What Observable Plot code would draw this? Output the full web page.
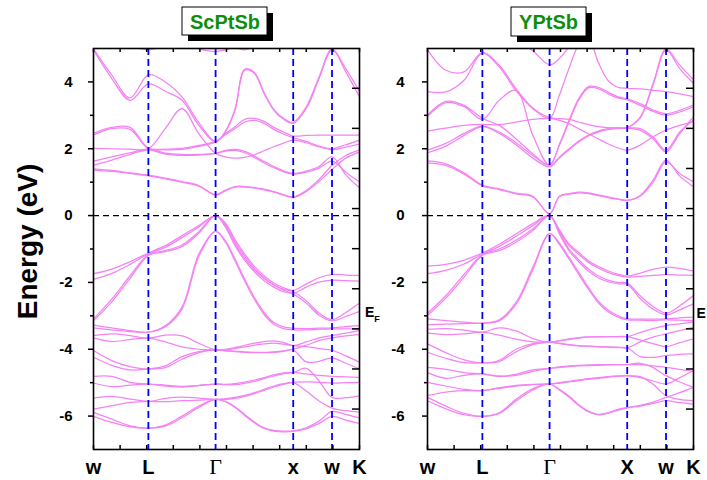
<!DOCTYPE html>
<html>
<head>
<meta charset="utf-8">
<script src="https://cdn.jsdelivr.net/npm/d3@7"></script>
<script src="https://cdn.jsdelivr.net/npm/@observablehq/plot@0.6"></script>
<style>
  body { margin: 0; background: #fff; }
  #fig { position: relative; width: 707px; height: 480px; overflow: hidden;
         font-family: "Liberation Sans", Arial, sans-serif; }
  #fig > svg { position: absolute; top: 0; }
</style>
</head>
<body>
<div id="fig"></div>
<script>
// k-path W–L–Γ–X–W–K (path length in units of 2π/a) and the sampled k grid
const kPath = [0, 0.236, 0.471, 0.707, 0.924, 1.140, 1.357, 1.573, 1.698, 1.823, 1.948,
               2.073, 2.198, 2.323, 2.448, 2.573, 2.740, 2.906, 3.073, 3.250, 3.427];
const symPoints = [0, 0.707, 1.573, 2.573, 3.073, 3.427];
const scLabels = ["w", "L", "Γ", "x", "w", "K"];
const ypLabels = ["w", "L", "Γ", "X", "w", "K"];
const majorE = [-6, -4, -2, 0, 2, 4];
const minorE = [-5, -3, -1, 1, 3];
const sideE = [3.81, 2.61, 1.41, 0.21, -0.99, -2.19, -3.39, -4.59, -5.79];

// ScPtSb bands (eV), one row per band on the kPath grid
const scValence = [
  [-1.74,-1.60,-1.38,-1.12,-0.90,-0.60,-0.30,0,-0.22,-0.72,-1.15,-1.52,-1.80,-2.02,-2.16,-2.24,-2.05,-1.86,-1.76,-1.78,-1.79],
  [-1.91,-1.73,-1.46,-1.15,-0.95,-0.66,-0.34,0,-0.26,-0.78,-1.22,-1.58,-1.86,-2.08,-2.23,-2.32,-2.14,-1.99,-1.93,-1.95,-1.96],
  [-3.09,-2.50,-1.80,-1.17,-1.05,-0.88,-0.48,0,-0.30,-0.85,-1.28,-1.62,-1.88,-2.07,-2.20,-2.28,-2.55,-2.92,-3.12,-2.90,-2.62],
  [-3.14,-2.58,-1.88,-1.19,-1.08,-0.93,-0.53,0,-0.34,-0.90,-1.34,-1.68,-1.95,-2.14,-2.28,-2.35,-2.62,-2.98,-3.15,-3.02,-2.87],
  [-3.28,-3.36,-3.44,-3.49,-3.30,-2.74,-1.15,-0.47,-0.75,-1.30,-1.90,-2.45,-2.90,-3.20,-3.33,-3.37,-3.38,-3.37,-3.36,-3.32,-3.29],
  [-3.36,-3.42,-3.47,-3.49,-3.33,-2.80,-1.22,-0.47,-0.79,-1.36,-1.96,-2.51,-2.96,-3.25,-3.38,-3.42,-3.42,-3.40,-3.39,-3.39,-3.39],
  [-3.59,-3.54,-3.59,-3.67,-3.58,-3.60,-3.82,-4.02,-4.00,-3.95,-3.88,-3.82,-3.77,-3.75,-3.80,-3.89,-3.78,-3.66,-3.59,-3.52,-3.44],
  [-3.66,-3.77,-3.71,-3.67,-3.78,-3.93,-4.00,-4.02,-4.04,-4.06,-4.08,-4.09,-4.09,-4.08,-4.05,-4.00,-3.88,-3.74,-3.66,-3.60,-3.56],
  [-4.04,-4.34,-4.52,-4.59,-4.50,-4.22,-4.07,-4.02,-4.02,-3.98,-3.93,-3.88,-3.84,-3.82,-3.85,-3.89,-3.92,-3.98,-4.03,-4.20,-4.39],
  [-4.24,-4.48,-4.62,-4.59,-4.55,-4.30,-4.10,-4.02,-4.05,-4.07,-4.09,-4.10,-4.10,-4.09,-4.06,-4.02,-4.38,-4.36,-4.26,-4.42,-4.59],
  [-4.81,-4.81,-4.99,-5.04,-5.10,-5.13,-5.09,-5.04,-5.05,-5.03,-4.98,-4.92,-4.85,-4.77,-4.71,-4.69,-4.74,-4.78,-4.81,-4.83,-4.84],
  [-5.01,-5.12,-5.07,-5.04,-5.07,-5.11,-5.08,-5.04,-5.06,-5.06,-5.02,-4.96,-4.88,-4.80,-4.73,-4.70,-4.57,-4.95,-5.44,-5.45,-5.39],
  [-5.46,-5.41,-5.49,-5.56,-5.47,-5.43,-5.46,-5.50,-5.48,-5.44,-5.38,-5.30,-5.20,-5.10,-5.03,-4.99,-4.98,-4.99,-5.01,-5.00,-4.99],
  [-5.79,-5.69,-5.59,-5.56,-5.57,-5.54,-5.52,-5.50,-5.50,-5.47,-5.41,-5.33,-5.23,-5.13,-5.05,-5.00,-5.25,-5.55,-5.76,-5.84,-5.88],
  [-5.89,-6.09,-6.29,-6.36,-6.27,-6.00,-5.70,-5.50,-5.56,-5.72,-5.95,-6.18,-6.35,-6.43,-6.45,-6.44,-6.35,-6.15,-5.86,-5.95,-6.06],
  [-6.01,-6.19,-6.32,-6.36,-6.30,-6.05,-5.74,-5.50,-5.57,-5.74,-5.98,-6.20,-6.37,-6.45,-6.47,-6.46,-6.38,-6.22,-6.01,-6.12,-6.22]
];
const scConduction = [
  [1.36,1.32,1.26,1.19,1.10,1.00,0.88,0.61,0.74,0.85,0.85,0.82,0.77,0.70,0.61,0.54,0.72,1.02,1.38,1.72,1.90],
  [1.40,1.35,1.28,1.21,1.12,1.02,0.90,0.63,0.76,0.87,0.87,0.84,0.79,0.72,0.63,0.56,0.75,1.08,1.50,1.80,1.96],
  [1.51,1.66,1.83,1.97,1.84,1.80,1.81,1.86,1.93,1.95,1.88,1.74,1.58,1.43,1.31,1.24,1.30,1.42,1.63,1.30,1.01],
  [1.63,1.76,1.88,1.99,1.87,1.83,1.83,1.86,1.95,1.98,1.92,1.78,1.62,1.47,1.34,1.26,1.33,1.47,1.76,1.22,0.83],
  [2.01,2.00,1.99,2.00,2.60,3.20,2.45,1.86,1.76,1.72,1.74,1.82,1.94,2.06,2.17,2.26,2.18,2.06,1.97,2.05,2.14],
  [2.41,2.60,2.58,2.00,1.97,1.98,2.07,2.20,2.45,2.66,2.88,2.91,2.82,2.64,2.50,2.38,2.40,2.41,2.41,2.41,2.41],
  [2.46,2.64,2.64,2.02,1.99,2.01,2.10,2.22,2.42,2.60,2.80,2.85,2.76,2.58,2.44,2.33,2.22,2.08,2.00,2.12,2.26],
  [4.96,4.10,3.45,3.94,3.72,3.45,2.70,2.20,2.50,3.15,4.35,4.25,3.65,3.15,2.88,2.76,3.20,4.10,4.96,4.40,3.71],
  [4.99,4.20,3.52,4.21,4.00,3.55,2.78,2.22,2.52,3.18,4.38,4.28,3.68,3.18,2.91,2.79,3.25,4.15,4.99,4.30,3.56],
  [null,null,5.10,4.96,5.10,null,4.98,4.91,4.96,5.02,4.96,5.05,null,null,null,null,null,null,null,null,null]
];

// YPtSb bands (eV)
const ypValence = [
  [-1.51,-1.46,-1.33,-1.12,-0.86,-0.55,-0.24,0,-0.42,-0.85,-1.10,-1.35,-1.52,-1.65,-1.75,-1.81,-1.72,-1.61,-1.54,-1.58,-1.66],
  [-1.74,-1.64,-1.45,-1.15,-0.92,-0.62,-0.30,0,-0.46,-0.90,-1.16,-1.40,-1.57,-1.70,-1.79,-1.84,-1.82,-1.79,-1.77,-1.78,-1.79],
  [-2.92,-2.40,-1.76,-1.17,-1.00,-0.74,-0.40,0,-0.50,-1.00,-1.32,-1.60,-1.80,-1.93,-2.00,-2.02,-2.40,-2.72,-2.92,-2.70,-2.39],
  [-2.99,-2.47,-1.84,-1.19,-1.05,-0.80,-0.45,0,-0.54,-1.05,-1.38,-1.66,-1.86,-1.98,-2.04,-2.06,-2.48,-2.80,-2.97,-2.82,-2.64],
  [-3.09,-3.14,-3.19,-3.22,-3.12,-2.60,-1.55,-0.54,-0.82,-1.25,-1.70,-2.15,-2.55,-2.82,-2.99,-3.09,-3.10,-3.10,-3.09,-3.06,-3.04],
  [-3.27,-3.25,-3.23,-3.22,-3.15,-2.66,-1.62,-0.54,-0.86,-1.30,-1.76,-2.20,-2.60,-2.87,-3.03,-3.12,-3.13,-3.14,-3.12,-3.13,-3.14],
  [-3.40,-3.38,-3.43,-3.49,-3.36,-3.45,-3.68,-3.79,-3.74,-3.69,-3.65,-3.63,-3.62,-3.62,-3.62,-3.62,-3.50,-3.38,-3.29,-3.24,-3.19],
  [-3.52,-3.56,-3.54,-3.49,-3.58,-3.70,-3.78,-3.79,-3.83,-3.87,-3.90,-3.91,-3.92,-3.93,-3.94,-3.96,-3.78,-3.64,-3.54,-3.44,-3.34],
  [-3.84,-4.10,-4.32,-4.41,-4.33,-4.00,-3.83,-3.79,-3.75,-3.71,-3.67,-3.64,-3.63,-3.62,-3.62,-3.62,-3.72,-3.83,-3.92,-3.80,-3.69],
  [-4.09,-4.27,-4.40,-4.41,-4.37,-4.08,-3.86,-3.79,-3.82,-3.86,-3.89,-3.91,-3.93,-3.94,-3.95,-3.96,-4.22,-4.24,-4.19,-4.15,-4.14],
  [-4.54,-4.60,-4.70,-4.74,-4.82,-4.75,-4.62,-4.57,-4.53,-4.50,-4.48,-4.47,-4.46,-4.46,-4.46,-4.46,-4.46,-4.50,-4.54,-4.60,-4.66],
  [-4.70,-4.87,-4.78,-4.74,-4.80,-4.78,-4.66,-4.57,-4.55,-4.52,-4.50,-4.49,-4.48,-4.47,-4.46,-4.46,-4.42,-4.55,-4.79,-4.98,-5.14],
  [-4.99,-5.10,-5.20,-5.24,-5.15,-5.08,-5.05,-5.04,-5.00,-4.96,-4.92,-4.88,-4.85,-4.82,-4.80,-4.79,-4.85,-4.95,-5.04,-4.85,-4.64],
  [-5.39,-5.28,-5.24,-5.24,-5.17,-5.10,-5.06,-5.04,-5.02,-4.98,-4.94,-4.90,-4.87,-4.84,-4.81,-4.80,-4.82,-5.05,-5.39,-5.50,-5.54],
  [-5.44,-5.70,-5.92,-6.01,-5.90,-5.50,-5.18,-5.04,-5.20,-5.40,-5.66,-5.85,-5.95,-5.90,-5.80,-5.74,-5.68,-5.58,-5.44,-5.30,-5.14],
  [-5.54,-5.78,-5.96,-6.01,-5.92,-5.55,-5.22,-5.04,-5.22,-5.43,-5.68,-5.87,-5.96,-5.92,-5.83,-5.76,-5.70,-5.62,-5.54,-5.60,-5.64]
];
const ypConduction = [
  [1.64,1.55,1.28,0.91,0.80,0.67,0.58,0.04,0.58,0.66,0.70,0.68,0.62,0.56,0.50,0.46,0.58,1.00,1.61,1.26,1.01],
  [1.58,1.50,1.24,0.89,0.78,0.65,0.56,0.06,0.56,0.64,0.68,0.66,0.60,0.54,0.49,0.45,0.60,1.06,1.66,1.18,0.86],
  [1.88,2.08,2.40,2.66,2.46,2.12,1.72,1.46,1.72,1.97,2.20,2.38,2.50,2.57,2.60,2.61,2.55,2.30,1.91,2.45,2.96],
  [1.96,2.16,2.46,2.68,2.50,2.18,1.80,1.51,2.10,2.80,3.45,3.82,3.80,3.65,3.52,3.46,3.30,3.12,3.01,3.10,3.26],
  [2.53,2.62,2.70,2.73,2.72,2.80,2.88,2.91,2.85,2.75,2.60,2.45,2.30,2.15,2.03,1.96,2.11,2.36,2.56,2.70,2.81],
  [3.01,3.42,3.30,2.91,2.70,2.30,1.85,1.51,2.13,2.85,3.50,3.86,3.84,3.70,3.56,3.49,3.35,3.16,3.05,3.15,3.31],
  [2.96,3.38,3.26,2.88,3.45,3.75,2.40,1.50,1.75,2.00,2.23,2.41,2.53,2.60,2.63,2.64,2.95,3.95,4.98,4.50,4.06],
  [3.71,3.70,4.05,4.86,4.45,3.74,3.20,2.91,3.60,4.40,5.10,5.30,4.60,4.05,3.84,3.81,3.79,3.75,3.71,3.64,3.56],
  [4.96,4.35,4.30,4.88,4.50,3.80,3.22,2.93,2.90,2.88,2.80,2.72,2.66,2.63,2.62,2.62,2.60,2.35,1.96,2.50,2.86],
  [null,null,null,null,null,5.30,4.93,4.51,4.70,5.05,5.50,null,null,null,null,null,null,null,null,null,null],
  [null,null,null,null,null,null,null,null,null,null,null,null,null,null,null,2.62,2.92,3.90,4.96,4.40,3.96]
];

const bandColor = "#f383f3";
const H = 480, MT = 48, MB = 31;

function rowsOf(bands) {
  return bands.flatMap((b, j) => b.map((E, i) => ({k: kPath[i], E, band: j})));
}

function panel({bands, labels, width, marginLeft, marginRight, tickPadding}) {
  const innerW = width - marginLeft - marginRight;
  const innerH = H - MT - MB;
  const kMax = kPath[kPath.length - 1];
  const tenths = d3.range(11).map(i => kMax * i / 10);
  const sym = symPoints.map((k, i) => ({k, label: labels[i]}));
  return Plot.plot({
    width, height: H, marginLeft, marginRight, marginTop: MT, marginBottom: MB,
    x: {domain: [0, kMax], axis: null},
    y: {domain: [-7, 5], axis: null},
    style: {fontFamily: "Liberation Sans, Arial, sans-serif", fontSize: "15px", fontWeight: "bold",
            color: "#000", background: "transparent", overflow: "visible"},
    marks: [
      Plot.line(rowsOf(bands), {x: "k", y: "E", z: "band", stroke: bandColor, strokeWidth: 1.25,
                                curve: "catmull-rom", clip: true}),
      Plot.ruleX(symPoints.slice(1, -1), {stroke: "#0000ff", strokeWidth: 1.8, strokeDasharray: "7,4"}),
      Plot.ruleY([0], {stroke: "#000", strokeWidth: 1.4, strokeDasharray: "6,4"}),
      Plot.tickX(tenths, {x: d => d, insetBottom: innerH - 4, stroke: "#000", strokeWidth: 1.5}),
      Plot.tickX(tenths, {x: d => d, insetTop: innerH - 4, stroke: "#000", strokeWidth: 1.5}),
      Plot.tickY(sideE, {y: d => d, insetLeft: innerW - 7, stroke: "#000", strokeWidth: 1.5}),
      Plot.axisY(majorE, {tickSize: 5, tickPadding, tickFormat: d => String(d), fontSize: 15,
                          fontWeight: "bold", label: null, strokeWidth: 1.5}),
      Plot.axisY(minorE, {tickSize: 3, tickFormat: () => "", label: null, strokeWidth: 1.5}),
      Plot.text(sym.filter(d => d.label !== "Γ"), {x: "k", text: "label", frameAnchor: "bottom",
                lineAnchor: "bottom", dy: 24, fontSize: 20, fontWeight: "bold"}),
      Plot.text(sym.filter(d => d.label === "Γ"), {x: "k", text: "label", frameAnchor: "bottom",
                lineAnchor: "bottom", dy: 24, fontSize: 22, fontWeight: "normal",
                fontFamily: "Liberation Serif, Times New Roman, serif"}),
      Plot.frame({stroke: "#000", strokeWidth: 1.6})
    ]
  });
}

const fig = document.getElementById("fig");

const leftPlot = panel({bands: [...scValence, ...scConduction], labels: scLabels,
                        width: 380, marginLeft: 93, marginRight: 21, tickPadding: 16});
leftPlot.style.left = "0px";
fig.appendChild(leftPlot);

const rightPlot = panel({bands: [...ypValence, ...ypConduction], labels: ypLabels,
                         width: 327, marginLeft: 47, marginRight: 14, tickPadding: 18});
rightPlot.style.left = "380px";
fig.appendChild(rightPlot);

// Titles, axis title and Fermi-level labels
const ov = d3.select(fig).append("svg")
  .attr("width", 707).attr("height", 480)
  .style("left", "0px").style("pointer-events", "none")
  .style("font-family", "Liberation Sans, Arial, sans-serif");

const titles = [
  {text: "ScPtSb", x: 182, y: 7, w: 85, h: 28, cx: 225, base: 28.5},
  {text: "YPtSb", x: 511, y: 7, w: 75, h: 29, cx: 548.5, base: 29}
];
titles.forEach(t => {
  ov.append("rect").attr("x", t.x + 6).attr("y", t.y + 6).attr("width", t.w).attr("height", t.h).attr("fill", "#000");
  ov.append("rect").attr("x", t.x).attr("y", t.y).attr("width", t.w).attr("height", t.h)
    .attr("fill", "#fff").attr("stroke", "#000").attr("stroke-width", 1);
  ov.append("text").attr("x", t.cx).attr("y", t.base).attr("text-anchor", "middle")
    .attr("font-size", 20).attr("font-weight", "bold").attr("fill", "#0d8f0d").text(t.text);
});

ov.append("text").attr("transform", "translate(36.5,241.5) rotate(-90)")
  .attr("text-anchor", "middle").attr("font-size", 28).attr("font-weight", "bold")
  .attr("fill", "#000").text("Energy (eV)");

const ef = ov.append("text").attr("x", 365).attr("y", 316.5).attr("font-weight", "bold").attr("fill", "#000");
ef.append("tspan").attr("font-size", 14).text("E");
ef.append("tspan").attr("font-size", 9).attr("dy", 5).text("F");

// the right-hand Fermi label sits against the window edge; only its E fits
ov.append("text").attr("x", 696.5).attr("y", 318).attr("font-weight", "bold").attr("fill", "#000")
  .attr("font-size", 14).text("E");
</script>
</body>
</html>
